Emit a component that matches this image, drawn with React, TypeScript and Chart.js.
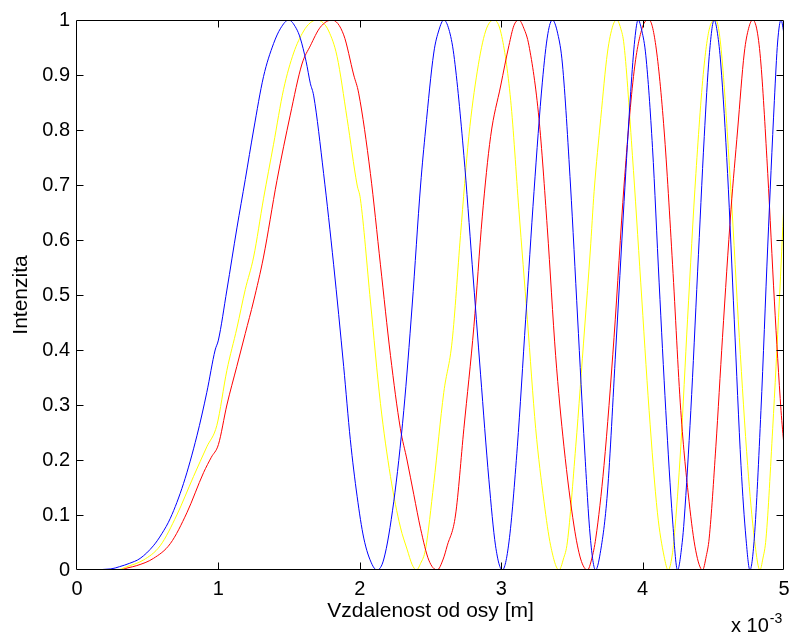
import React, { useEffect, useRef } from "react";
import { Chart, registerables } from "chart.js";

Chart.register(...registerables);

// x values are in units of 10^-3 m
const xTickValues = [0, 1, 2, 3, 4, 5];
const yTickValues = [0, 0.1, 0.2, 0.3, 0.4, 0.5, 0.6, 0.7, 0.8, 0.9, 1];

const blueX = [0, 0.24, 0.3, 0.37, 0.446, 0.54, 0.6, 0.66, 0.753, 0.848, 0.918, 0.977, 1.0, 1.06, 1.131, 1.19, 1.249, 1.319, 1.39, 1.44, 1.497, 1.55, 1.579, 1.62, 1.65, 1.674, 1.744, 1.815, 1.886, 1.933, 1.981, 2.028, 2.087, 2.122, 2.17, 2.24, 2.311, 2.37, 2.43, 2.465, 2.523, 2.56, 2.594, 2.63, 2.665, 2.736, 2.795, 2.854, 2.913, 2.96, 3.008, 3.055, 3.114, 3.173, 3.232, 3.291, 3.33, 3.362, 3.4, 3.433, 3.49, 3.54, 3.59, 3.63, 3.667, 3.7, 3.751, 3.81, 3.869, 3.916, 3.945, 3.968, 3.995, 4.023, 4.07, 4.117, 4.164, 4.212, 4.247, 4.28, 4.294, 4.341, 4.389, 4.436, 4.471, 4.506, 4.53, 4.553, 4.601, 4.648, 4.696, 4.731, 4.759, 4.79, 4.837, 4.885, 4.932, 4.955, 4.979, 5.0];
const blueY = [0, 0.002, 0.006, 0.012, 0.021, 0.044, 0.066, 0.094, 0.157, 0.244, 0.323, 0.4, 0.418, 0.509, 0.622, 0.71, 0.8, 0.897, 0.957, 0.985, 1.0, 0.985, 0.967, 0.925, 0.885, 0.862, 0.721, 0.555, 0.37, 0.237, 0.134, 0.058, 0.01, 0, 0.02, 0.124, 0.29, 0.48, 0.7, 0.8, 0.94, 0.982, 1.0, 0.983, 0.937, 0.754, 0.555, 0.356, 0.164, 0.044, 0, 0.051, 0.224, 0.456, 0.688, 0.887, 0.975, 1.0, 0.975, 0.92, 0.7, 0.46, 0.22, 0.06, 0, 0.03, 0.14, 0.4, 0.67, 0.87, 0.965, 1.0, 0.98, 0.935, 0.768, 0.522, 0.29, 0.091, 0, 0.05, 0.091, 0.29, 0.542, 0.788, 0.934, 1.0, 0.975, 0.92, 0.721, 0.456, 0.19, 0.058, 0, 0.058, 0.29, 0.589, 0.854, 0.96, 1.0, 0.975];

const redX = [0, 0.3, 0.36, 0.423, 0.54, 0.66, 0.777, 0.895, 0.95, 1.0, 1.06, 1.13, 1.19, 1.249, 1.319, 1.414, 1.508, 1.591, 1.65, 1.721, 1.804, 1.886, 1.957, 1.992, 2.075, 2.146, 2.217, 2.287, 2.334, 2.382, 2.43, 2.488, 2.547, 2.59, 2.618, 2.677, 2.736, 2.807, 2.866, 2.925, 2.996, 3.055, 3.09, 3.125, 3.16, 3.196, 3.267, 3.326, 3.385, 3.444, 3.515, 3.562, 3.61, 3.64, 3.669, 3.727, 3.798, 3.869, 3.94, 3.999, 4.046, 4.093, 4.152, 4.212, 4.27, 4.329, 4.376, 4.424, 4.45, 4.471, 4.518, 4.565, 4.625, 4.672, 4.719, 4.75, 4.778, 4.81, 4.837, 4.885, 4.932, 4.979, 5.0];
const redY = [0, 0, 0.004, 0.008, 0.021, 0.048, 0.104, 0.177, 0.205, 0.228, 0.3, 0.37, 0.43, 0.489, 0.569, 0.708, 0.827, 0.92, 0.953, 0.987, 1.0, 0.973, 0.9, 0.867, 0.721, 0.555, 0.39, 0.257, 0.2, 0.137, 0.075, 0.018, 0, 0.02, 0.044, 0.1, 0.257, 0.443, 0.642, 0.788, 0.88, 0.954, 0.99, 1.0, 0.985, 0.954, 0.821, 0.622, 0.39, 0.224, 0.08, 0.02, 0, 0.02, 0.058, 0.19, 0.423, 0.7, 0.907, 0.987, 1.0, 0.954, 0.8, 0.555, 0.29, 0.124, 0.035, 0, 0.025, 0.058, 0.224, 0.423, 0.655, 0.8, 0.94, 0.985, 1.0, 0.98, 0.92, 0.721, 0.489, 0.29, 0.225];

const yellowX = [0, 0.28, 0.352, 0.469, 0.588, 0.706, 0.824, 0.918, 0.989, 1.06, 1.131, 1.19, 1.249, 1.319, 1.39, 1.461, 1.532, 1.603, 1.65, 1.697, 1.74, 1.78, 1.839, 1.91, 1.981, 2.004, 2.075, 2.146, 2.217, 2.287, 2.334, 2.37, 2.4, 2.43, 2.465, 2.523, 2.594, 2.653, 2.712, 2.771, 2.831, 2.89, 2.948, 3.0, 3.067, 3.125, 3.185, 3.244, 3.303, 3.35, 3.409, 3.44, 3.468, 3.527, 3.59, 3.63, 3.657, 3.704, 3.751, 3.79, 3.817, 3.845, 3.869, 3.928, 3.987, 4.046, 4.105, 4.152, 4.181, 4.205, 4.223, 4.27, 4.318, 4.377, 4.436, 4.483, 4.518, 4.54, 4.565, 4.625, 4.684, 4.743, 4.79, 4.83, 4.85, 4.873, 4.92, 4.967, 5.0];
const yellowY = [0, 0, 0.006, 0.018, 0.044, 0.1, 0.17, 0.224, 0.263, 0.363, 0.44, 0.51, 0.569, 0.675, 0.774, 0.874, 0.94, 0.98, 0.995, 1.0, 0.995, 0.98, 0.934, 0.821, 0.7, 0.675, 0.489, 0.303, 0.17, 0.078, 0.038, 0.01, 0, 0.012, 0.038, 0.157, 0.323, 0.416, 0.608, 0.788, 0.907, 0.98, 1.0, 0.975, 0.854, 0.655, 0.456, 0.257, 0.124, 0.044, 0, 0.02, 0.051, 0.224, 0.44, 0.58, 0.688, 0.821, 0.94, 0.99, 1.0, 0.985, 0.954, 0.754, 0.522, 0.29, 0.104, 0.025, 0, 0.02, 0.058, 0.224, 0.456, 0.721, 0.92, 0.993, 1.0, 0.98, 0.92, 0.688, 0.423, 0.19, 0.058, 0, 0.02, 0.058, 0.257, 0.489, 0.67];

const xTitle = "Vzdalenost od osy [m]";
const yTitle = "Intenzita";
const xExponentBase = "x 10";
const xExponent = "-3";

const FONT_FAMILY = "'Liberation Sans', Arial, Helvetica, sans-serif";
const AXIS_COLOR = "#000000";

const toPoints = (xs: number[], ys: number[]) => xs.map((x, i) => ({ x, y: ys[i] }));

const matlabFrame = {
  id: "matlabFrame",
  afterDatasetsDraw(chart: any) {
    const { ctx, chartArea: a, scales } = chart;
    const L = Math.round(a.left) - 0.5;
    const R = Math.round(a.right) - 0.5;
    const T = Math.round(a.top) + 0.5;
    const B = Math.round(a.bottom) - 0.5;
    ctx.save();
    ctx.strokeStyle = AXIS_COLOR;
    ctx.lineWidth = 1;
    ctx.beginPath();
    ctx.rect(L, T, R - L, B - T);
    const tl = 7;
    xTickValues.forEach((v) => {
      const px = Math.round(scales.x.getPixelForValue(v)) + 0.5;
      if (v === xTickValues[0] || v === xTickValues[xTickValues.length - 1]) return;
      ctx.moveTo(px, B);
      ctx.lineTo(px, B - tl);
      ctx.moveTo(px, T);
      ctx.lineTo(px, T + tl);
    });
    yTickValues.forEach((v) => {
      const py = Math.round(scales.y.getPixelForValue(v)) + 0.5;
      if (v === yTickValues[0] || v === yTickValues[yTickValues.length - 1]) return;
      ctx.moveTo(L, py);
      ctx.lineTo(L + tl, py);
      ctx.moveTo(R, py);
      ctx.lineTo(R - tl, py);
    });
    ctx.stroke();

    // exponent label
    ctx.fillStyle = AXIS_COLOR;
    ctx.textBaseline = "alphabetic";
    ctx.textAlign = "left";
    ctx.font = `20px ${FONT_FAMILY}`;
    const baseX = 731;
    const baseY = 632;
    ctx.fillText(xExponentBase, baseX, baseY);
    const w = ctx.measureText(xExponentBase).width;
    ctx.font = `14px ${FONT_FAMILY}`;
    ctx.fillText(xExponent, baseX + w + 1, baseY - 9);
    ctx.restore();
  },
};

export default function App() {
  const canvasRef = useRef<HTMLCanvasElement | null>(null);

  useEffect(() => {
    if (!canvasRef.current) return;
    const font = { family: FONT_FAMILY, size: 20 };
    const titleFont = { family: FONT_FAMILY, size: 21 };
    const chart = new Chart(canvasRef.current, {
      type: "line",
      data: {
        datasets: [
          { data: toPoints(blueX, blueY), borderColor: "#0000FF", backgroundColor: "#0000FF" },
          { data: toPoints(redX, redY), borderColor: "#FF0000", backgroundColor: "#FF0000" },
          { data: toPoints(yellowX, yellowY), borderColor: "#FFFF00", backgroundColor: "#FFFF00" },
        ],
      },
      options: {
        animation: false,
        responsive: false,
        maintainAspectRatio: false,
        layout: { padding: { top: 20, right: 6, left: 0, bottom: 0 } },
        plugins: { legend: { display: false }, tooltip: { enabled: false } },
        elements: {
          point: { radius: 0, hoverRadius: 0 },
          line: { borderWidth: 1, cubicInterpolationMode: "monotone", fill: false },
        },
        scales: {
          x: {
            type: "linear",
            min: 0,
            max: 5,
            afterBuildTicks: (s: any) => {
              s.ticks = xTickValues.map((v) => ({ value: v }));
            },
            afterFit: (s: any) => {
              s.height = 64;
              s.paddingLeft = 0;
              s.paddingRight = 0;
            },
            grid: { display: false, drawTicks: false },
            border: { display: false },
            ticks: {
              font,
              color: AXIS_COLOR,
              padding: 7,
              maxRotation: 0,
              autoSkip: false,
              callback: (v: any) => String(v),
            },
            title: {
              display: true,
              text: xTitle,
              font: titleFont,
              color: AXIS_COLOR,
              padding: { top: 0, bottom: 10 },
            },
          },
          y: {
            type: "linear",
            min: 0,
            max: 1,
            afterBuildTicks: (s: any) => {
              s.ticks = yTickValues.map((v) => ({ value: v }));
            },
            afterFit: (s: any) => {
              s.width = 77;
              s.paddingTop = 0;
              s.paddingBottom = 0;
            },
            grid: { display: false, drawTicks: false },
            border: { display: false },
            ticks: {
              font,
              color: AXIS_COLOR,
              padding: 7,
              autoSkip: false,
              callback: (v: any) => String(Number(Number(v).toFixed(1))),
            },
            title: {
              display: true,
              text: yTitle,
              font: titleFont,
              color: AXIS_COLOR,
              padding: { top: 9, bottom: 0 },
            },
          },
        },
      },
      plugins: [matlabFrame],
    } as any);
    return () => chart.destroy();
  }, []);

  return (
    <div style={{ position: "absolute", left: 0, top: 0, width: 790, height: 634, background: "#fff" }}>
      <canvas ref={canvasRef} width={790} height={634} style={{ display: "block" }} />
    </div>
  );
}
